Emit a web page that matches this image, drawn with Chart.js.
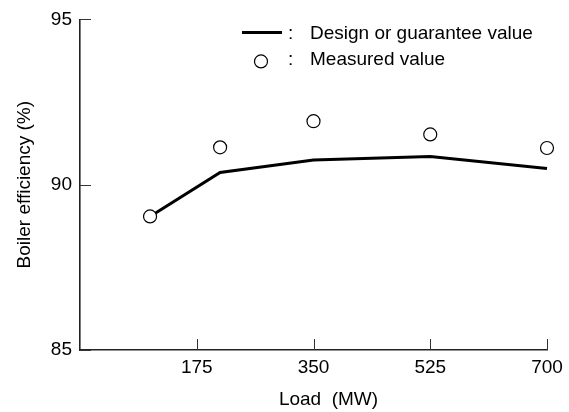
<!DOCTYPE html>
<html><head><meta charset="utf-8">
<script src="https://cdn.jsdelivr.net/npm/chart.js@4/dist/chart.umd.min.js"></script>
<style>html,body{margin:0;padding:0;background:#fff}#wrap{width:569px;height:412px;position:relative}canvas{display:block}</style>
</head><body><div id="wrap"><canvas id="c" width="569" height="412" style="width:569px;height:412px"></canvas></div>
<script>
// ---- data ----
const loadMW = [105, 210, 350, 525, 700];
const designValue = [89.04, 90.37, 90.75, 90.85, 90.49];
const measuredValue = [89.04, 91.13, 91.92, 91.52, 91.11];
const xTickValues = [175, 350, 525, 700];
const yTickValues = [85, 90, 95];
const seriesLabels = ['Design or guarantee value', 'Measured value'];
const xTitle = 'Load  (MW)';
const yTitle = 'Boiler efficiency (%)';

const FONT = '"Liberation Sans", Arial, Helvetica, sans-serif';
const FS = 19;

const inwardTicks = {
  id: 'inwardTicks',
  afterDatasetsDraw(chart) {
    const {ctx, chartArea: a, scales: {x, y}} = chart;
    ctx.save();
    ctx.strokeStyle = '#333';
    ctx.lineWidth = 1;
    ctx.beginPath();
    x.ticks.forEach(t => {
      const px = Math.round(x.getPixelForValue(t.value)) + 0.5;
      ctx.moveTo(px, a.bottom); ctx.lineTo(px, a.bottom - 11);
    });
    y.ticks.forEach(t => {
      const py = Math.round(y.getPixelForValue(t.value)) + 0.5;
      ctx.moveTo(a.left, py); ctx.lineTo(a.left + 11, py);
    });
    ctx.stroke();
    ctx.restore();
  }
};

const customLegendAndTitle = {
  id: 'customLegendAndTitle',
  afterDraw(chart) {
    const {ctx, chartArea: a} = chart;
    const ds = chart.data.datasets;
    ctx.save();
    ctx.font = FS + 'px ' + FONT;
    ctx.fillStyle = '#000';
    ctx.textBaseline = 'alphabetic';
    const mx = a.left + 162, colonX = a.left + 208, textX = a.left + 230;
    // row 1 : line sample
    ctx.strokeStyle = ds[0].borderColor;
    ctx.lineWidth = ds[0].borderWidth;
    ctx.beginPath(); ctx.moveTo(mx, a.top + 13); ctx.lineTo(mx + 40, a.top + 13); ctx.stroke();
    ctx.fillText(':', colonX, a.top + 20);
    ctx.fillText(ds[0].label, textX, a.top + 20);
    // row 2 : circle sample
    ctx.beginPath();
    ctx.arc(mx + 19, a.top + 42, 6.5, 0, Math.PI * 2);
    ctx.fillStyle = ds[1].backgroundColor; ctx.fill();
    ctx.strokeStyle = ds[1].borderColor; ctx.lineWidth = ds[1].borderWidth; ctx.stroke();
    ctx.fillStyle = '#000';
    ctx.fillText(':', colonX, a.top + 46);
    ctx.fillText(ds[1].label, textX, a.top + 46);
    // x title
    ctx.textAlign = 'center';
    ctx.textBaseline = 'middle';
    ctx.fillText(xTitle, (a.left + a.right) / 2 + 15, 400);
    ctx.restore();
  }
};

new Chart(document.getElementById('c'), {
  type: 'line',
  data: {
    datasets: [
      {
        label: seriesLabels[0],
        data: loadMW.map((v, i) => ({x: v, y: designValue[i]})),
        borderColor: '#000', borderWidth: 3, pointRadius: 0, fill: false, tension: 0,
        clip: false, order: 2
      },
      {
        label: seriesLabels[1],
        data: loadMW.map((v, i) => ({x: v, y: measuredValue[i]})),
        showLine: false, pointStyle: 'circle', pointRadius: 6.5,
        backgroundColor: '#fff', borderColor: '#000', borderWidth: 1.2,
        clip: false, order: 1
      }
    ]
  },
  options: {
    responsive: false,
    animation: false,
    devicePixelRatio: 1,
    layout: {padding: {left: 0, right: 22, top: 19, bottom: 0}},
    plugins: {legend: {display: false}, tooltip: {enabled: false}},
    scales: {
      x: {
        type: 'linear', min: 0, max: 700,
        afterBuildTicks: s => { s.ticks = xTickValues.map(v => ({value: v})); },
        afterFit: s => { s.height = 62; },
        grid: {display: true, drawOnChartArea: false, drawTicks: false},
        border: {display: true, color: '#222', width: 1.6},
        ticks: {color: '#000', font: {family: FONT, size: FS}, padding: 6, maxRotation: 0, autoSkip: false},
        title: {display: false, text: xTitle}
      },
      y: {
        type: 'linear', min: 85, max: 95,
        afterBuildTicks: s => { s.ticks = yTickValues.map(v => ({value: v})); },
        afterFit: s => { s.width = 80; },
        grid: {display: true, drawOnChartArea: false, drawTicks: false},
        border: {display: true, color: '#222', width: 1.6},
        ticks: {color: '#000', font: {family: FONT, size: FS}, padding: 8},
        title: {display: true, text: yTitle, color: '#000', font: {family: FONT, size: FS}, padding: {top: 13, bottom: 0}}
      }
    }
  },
  plugins: [inwardTicks, customLegendAndTitle]
});
</script>
</body></html>
